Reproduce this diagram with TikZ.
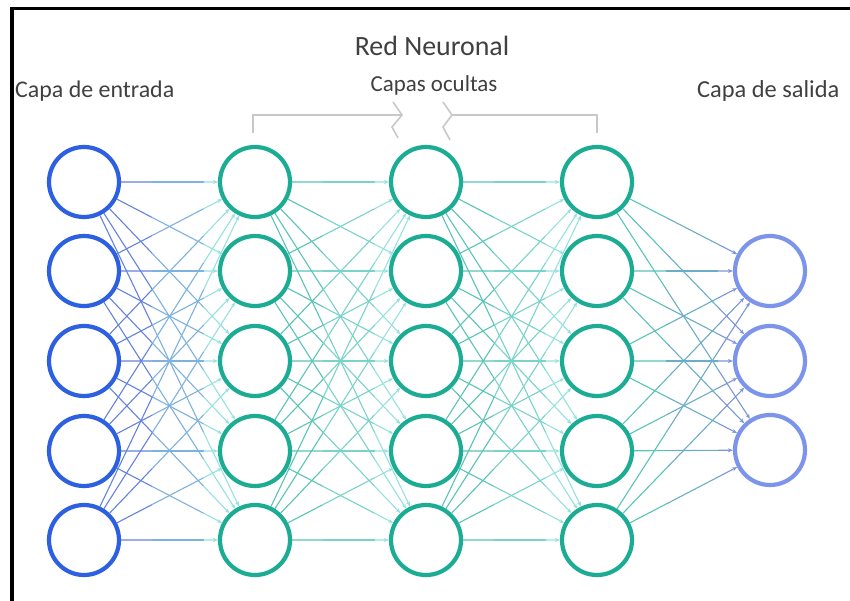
\documentclass[tikz,border=0pt]{standalone}
\usepackage{fontspec}
\setmainfont{Carlito}
\usetikzlibrary{calc,arrows.meta}

\definecolor{inblue}{RGB}{45,95,225}
\definecolor{hidteal}{RGB}{28,172,148}
\definecolor{outblue}{RGB}{125,148,235}
\definecolor{inedge}{RGB}{100,130,222}
\definecolor{hidedgeA}{RGB}{90,196,182}
\definecolor{hidedgeB}{RGB}{150,226,222}
\definecolor{outedge}{RGB}{125,150,215}
\definecolor{labelgray}{RGB}{64,64,64}
\definecolor{bracketgray}{RGB}{200,200,200}

% one connection, shaded in three steps from colour #3 to colour #4
\newcommand\linkedge[4]{%
  \draw[edge,#3] (#1) -- ($(#1)!0.4!(#2)$);
  \draw[edge,#3!50!#4] ($(#1)!0.4!(#2)$) -- ($(#1)!0.7!(#2)$);
  \draw[edge,#4,-{Stealth[length=5bp,width=4bp]}] ($(#1)!0.7!(#2)$) -- (#2);
}

\begin{document}
\begin{tikzpicture}[x=1bp,y=-1bp,
  neuron/.style={circle,draw,line width=4.2bp,minimum size=70bp,inner sep=0pt,fill=white},
  inneuron/.style={neuron,draw=inblue},
  hidneuron/.style={neuron,draw=hidteal},
  outneuron/.style={neuron,draw=outblue},
  edge/.style={line width=1.1bp},
  bracket/.style={draw=bracketgray,line width=1.6bp,line join=miter},
  lbl/.style={text=labelgray,inner sep=0pt}]

\useasboundingbox (0,0) rectangle (850,601);
\fill[white] (0,0) rectangle (850,601);

% frame (top and left edges)
\draw[line width=3.5bp] (10,8.5) -- (850,8.5);
\draw[line width=3.5bp] (12,7) -- (12,601);

% layers
\foreach \y [count=\i] in {182,271,361,451,540} {
  \node[inneuron]  (a\i) at (84,\y)  {};
  \node[hidneuron] (b\i) at (255,\y) {};
  \node[hidneuron] (c\i) at (426,\y) {};
  \node[hidneuron] (d\i) at (597,\y) {};
}
\foreach \y [count=\i] in {271,361,450} {
  \node[outneuron] (o\i) at (770,\y) {};
}

% connections
\foreach \i in {1,...,5} {
  \foreach \j in {1,...,5} {
    \linkedge{a\i}{b\j}{inedge}{hidedgeB}
    \linkedge{b\i}{c\j}{hidedgeA}{hidedgeB}
    \linkedge{c\i}{d\j}{hidedgeA}{hidedgeB}
  }
  \foreach \j in {1,2,3} {
    \linkedge{d\i}{o\j}{hidedgeA}{outedge}
  }
}

% labels
\node[lbl,anchor=base,font=\fontsize{28}{33}\selectfont] (title) at (432,56) {Red Neuronal};
\node[lbl,anchor=base,font=\fontsize{23}{27}\selectfont] (hidden) at (434,92) {Capas ocultas};
\node[lbl,anchor=base west,font=\fontsize{24}{29}\selectfont] (input) at (15,98) {Capa de entrada};
\node[lbl,anchor=base west,font=\fontsize{24.5}{29}\selectfont] (output) at (697,98) {Capa de salida};

% bracket over the hidden layers
\coordinate (bl) at (253,133);
\coordinate (br) at (597,133);
\draw[bracket] (bl) -- (253,115) -- (402,115);
\draw[bracket] (393,102) -- (402,115) -- (392,127) -- (398,138);
\draw[bracket] (443,102) -- (452,115) -- (443,127) -- (450,140);
\draw[bracket] (452,115) -- (597,115) -- (br);
\end{tikzpicture}
\end{document}
